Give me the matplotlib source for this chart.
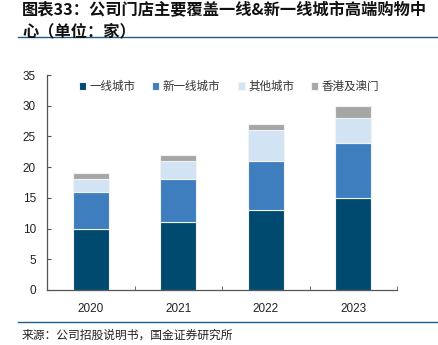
import numpy as np
import matplotlib
matplotlib.use("Agg")
import matplotlib.pyplot as plt
from matplotlib.lines import Line2D

plt.rcParams['font.family'] = ['Liberation Sans', 'Noto Sans CJK SC', 'DejaVu Sans']

years = ["2020", "2021", "2022", "2023"]
tier1 = [10, 11, 13, 15]
new_tier1 = [6, 7, 8, 9]
others = [2, 3, 5, 4]
hk_macau = [1, 1, 1, 2]

series = [
    ("一线城市", tier1, "#004A6F"),
    ("新一线城市", new_tier1, "#3F7EBE"),
    ("其他城市", others, "#D2E4F4"),
    ("香港及澳门", hk_macau, "#A6A6A6"),
]

fig = plt.figure(figsize=(4.38, 3.45), dpi=100)
ax = fig.add_axes([47 / 438, 55 / 345, 350 / 438, 215 / 345])

x = np.arange(len(years))
bottom = np.zeros(len(years))
for name, vals, col in series:
    ax.bar(x, vals, width=0.41, bottom=bottom, color=col, edgecolor="#F2F2F2",
           linewidth=0.8, label=name)
    bottom += np.array(vals)

ax.set_xlim(-0.5, 3.5)
ax.set_ylim(0, 35)
ax.set_yticks(range(0, 36, 5))
ax.set_xticks(x)
ax.set_xticklabels(years)
ax.set_xticks(np.arange(0.5, 4, 1), minor=True)
ax.tick_params(axis="x", which="major", length=0, pad=9, labelsize=8.5, colors="#222222")
ax.tick_params(axis="x", which="minor", direction="in", length=3, color="#555555")
ax.tick_params(axis="y", direction="in", length=3, color="#555555", labelsize=8.5,
               labelcolor="#222222", pad=8)
for s in ["top", "right"]:
    ax.spines[s].set_visible(False)
for s in ["left", "bottom"]:
    ax.spines[s].set_color("#555555")
    ax.spines[s].set_linewidth(0.9)

leg = ax.legend(loc="upper center", bbox_to_anchor=(0.52, 1.025), ncol=4, frameon=False,
                handlelength=0.6, handleheight=0.6, handletextpad=0.3, columnspacing=1.5,
                prop={"family": ["Noto Sans CJK SC"], "size": 8.3})
for t in leg.get_texts():
    t.set_color("#333333")

fig.text(22 / 438, 1 - 10 / 345, "图表33：公司门店主要覆盖一线&新一线城市高端购物中",
         fontsize=11.7, fontweight="bold", family=["Noto Sans CJK SC"], va="center",
         color="#111111")
fig.text(22 / 438, 1 - 31 / 345, "心（单位：家）",
         fontsize=11.7, fontweight="bold", family=["Noto Sans CJK SC"], va="center",
         color="#111111")
fig.add_artist(Line2D([18 / 438, 1], [1 - 37 / 345] * 2, color="#1F5C8B", lw=1.0))
fig.add_artist(Line2D([18 / 438, 1], [1 - 322 / 345] * 2, color="#1F5C8B", lw=1.0))
fig.text(22 / 438, 1 - 335 / 345, "来源：公司招股说明书，国金证券研究所",
         fontsize=8.5, family=["Noto Sans CJK SC"], va="center", color="#222222")

fig.savefig("out.png", dpi=100)
